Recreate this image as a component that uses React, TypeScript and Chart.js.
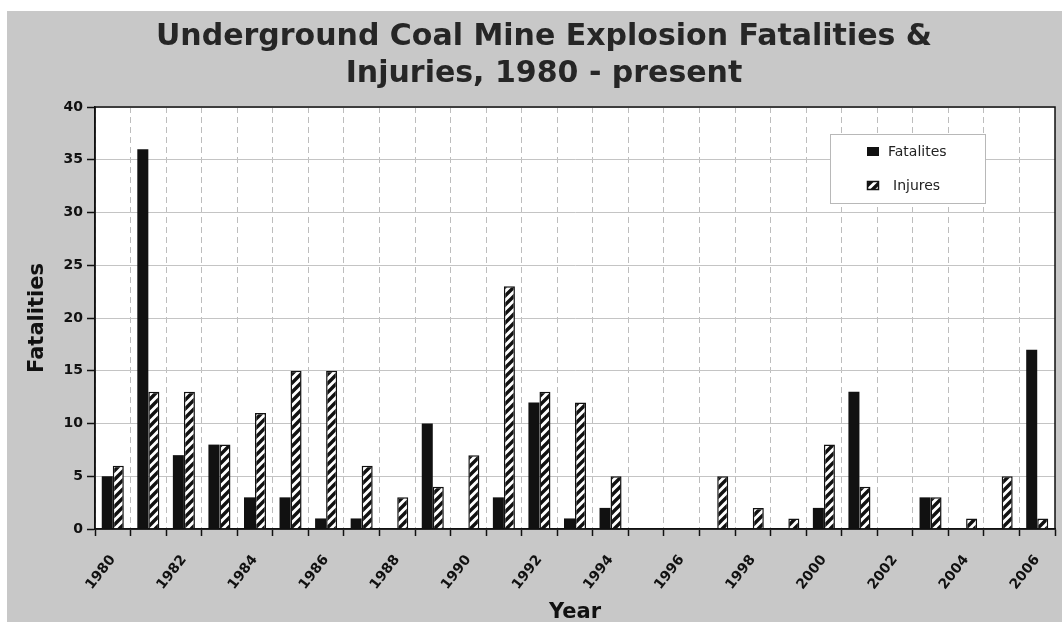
import React, { useEffect, useRef } from 'react';
import { Chart, registerables } from 'chart.js';

Chart.register(...registerables);

const years = ['1980','1981','1982','1983','1984','1985','1986','1987','1988','1989','1990','1991','1992','1993','1994','1995','1996','1997','1998','1999','2000','2001','2002','2003','2004','2005','2006'];
const fatalities = [5,36,7,8,3,3,1,1,0,10,0,3,12,1,2,0,0,0,0,0,2,13,0,3,0,0,17];
const injuries = [6,13,13,8,11,15,15,6,3,4,7,23,13,12,5,0,0,5,2,1,8,4,0,3,1,5,1];
const seriesNames = ['Fatalites', 'Injures'];
const titleLines = ['Underground Coal Mine Explosion Fatalities &', 'Injuries, 1980 - present'];
const yTitle = 'Fatalities';
const xTitle = 'Year';
const yMax = 40;
const yStep = 5;

const FONT = '"DejaVu Sans", "Liberation Sans", sans-serif';

function makeHatch(): CanvasPattern | string {
  const s = 9;
  const c = document.createElement('canvas');
  c.width = s; c.height = s;
  const g = c.getContext('2d');
  if (!g) return '#fff';
  g.fillStyle = '#ffffff';
  g.fillRect(0, 0, s, s);
  g.strokeStyle = '#111';
  g.lineWidth = 3.4;
  g.lineCap = 'square';
  g.beginPath();
  g.moveTo(-1, 1); g.lineTo(1, -1);
  g.moveTo(0, s); g.lineTo(s, 0);
  g.moveTo(s - 1, s + 1); g.lineTo(s + 1, s - 1);
  g.stroke();
  const p = g.createPattern(c, 'repeat');
  return p || '#fff';
}

export default function App() {
  const ref = useRef<HTMLCanvasElement | null>(null);

  useEffect(() => {
    document.body.style.margin = '0';
    const canvas = ref.current;
    if (!canvas) return;
    const hatch = makeHatch();

    const decor = {
      id: 'decor',
      beforeDraw(chart: any) {
        const { ctx, width, height, chartArea: a } = chart;
        ctx.save();
        ctx.fillStyle = '#ffffff';
        ctx.fillRect(0, 0, width, height);
        ctx.fillStyle = '#c8c8c8';
        ctx.fillRect(7, 11, width - 7, height - 11);
        ctx.fillStyle = '#ffffff';
        ctx.fillRect(a.left, a.top, a.right - a.left, a.bottom - a.top);
        ctx.restore();
      },
      afterDraw(chart: any) {
        const { ctx, chartArea: a } = chart;
        ctx.save();
        // frame
        ctx.strokeStyle = '#111';
        ctx.lineWidth = 1.5;
        ctx.strokeRect(a.left, a.top, a.right - a.left, a.bottom - a.top);
        // title
        ctx.fillStyle = '#262626';
        ctx.font = `bold 30px ${FONT}`;
        ctx.textAlign = 'center';
        ctx.textBaseline = 'alphabetic';
        ctx.fillText(titleLines[0], 544, 45);
        ctx.fillText(titleLines[1], 544, 82);
        // axis titles
        ctx.fillStyle = '#111';
        ctx.font = `bold 21px ${FONT}`;
        ctx.fillText(xTitle, (a.left + a.right) / 2, 618);
        ctx.save();
        ctx.translate(43, (a.top + a.bottom) / 2);
        ctx.rotate(-Math.PI / 2);
        ctx.fillText(yTitle, 0, 0);
        ctx.restore();
        // legend
        ctx.fillStyle = '#ffffff';
        ctx.fillRect(830, 134, 155, 69);
        ctx.strokeStyle = '#b8b8b8';
        ctx.lineWidth = 1;
        ctx.strokeRect(830.5, 134.5, 155, 69);
        ctx.fillStyle = '#111';
        ctx.fillRect(867, 147, 12, 9);
        ctx.fillStyle = hatch as any;
        ctx.fillRect(867, 181, 12, 9);
        ctx.strokeStyle = '#111';
        ctx.lineWidth = 1.5;
        ctx.strokeRect(867.5, 181.5, 11, 8);
        ctx.fillStyle = '#222';
        ctx.font = `14px ${FONT}`;
        ctx.textAlign = 'left';
        ctx.textBaseline = 'middle';
        ctx.fillText(seriesNames[0], 888, 152);
        ctx.fillText(seriesNames[1], 893, 186);
        ctx.restore();
      },
    };

    const chart = new Chart(canvas, {
      type: 'bar',
      data: {
        labels: years,
        datasets: [
          {
            label: seriesNames[0],
            data: fatalities,
            backgroundColor: '#111111',
            borderColor: '#111111',
            borderWidth: 0,
            categoryPercentage: 0.62,
            barPercentage: 1.0,
          },
          {
            label: seriesNames[1],
            data: injuries,
            backgroundColor: hatch as any,
            borderColor: '#111111',
            borderWidth: 1.5,
            categoryPercentage: 0.62,
            barPercentage: 1.0,
          },
        ],
      },
      options: {
        animation: false,
        responsive: false,
        maintainAspectRatio: false,
        layout: { padding: { top: 107, right: 7, left: 0, bottom: 0 } },
        plugins: {
          legend: { display: false },
          title: { display: false },
          tooltip: { enabled: false },
        },
        scales: {
          x: {
            offset: true,
            grid: {
              display: true,
              offset: true,
              color: '#bdbdbd',
              lineWidth: 1,
              tickLength: 7,
              tickColor: '#111',
              tickWidth: 1.5,
            },
            border: { display: true, color: '#111', width: 1.5, dash: [6, 4] },
            ticks: {
              autoSkip: false,
              minRotation: 52,
              maxRotation: 52,
              padding: 16,
              color: '#111',
              font: { family: FONT, size: 14, weight: 'bold' },
              callback: (_v: any, i: number) => (i % 2 === 0 ? years[i] : ''),
            },
            afterFit: (s: any) => { s.height = 93; s.paddingLeft = 0; s.paddingRight = 0; },
          },
          y: {
            min: 0,
            max: yMax,
            grid: {
              color: '#c4c4c4',
              lineWidth: 1,
              tickLength: 8,
              tickColor: '#111',
              tickWidth: 1.5,
            },
            border: { display: true, color: '#111', width: 1.5 },
            ticks: {
              stepSize: yStep,
              padding: 4,
              color: '#111',
              font: { family: FONT, size: 14, weight: 'bold' },
            },
            afterFit: (s: any) => { s.width = 95; s.paddingTop = 0; s.paddingBottom = 0; },
          },
        },
      },
      plugins: [decor],
    });

    return () => chart.destroy();
  }, []);

  return (
    <div style={{ width: 1062, height: 622, position: 'relative' }}>
      <canvas ref={ref} width={1062} height={622} style={{ display: 'block', width: 1062, height: 622 }} />
    </div>
  );
}
